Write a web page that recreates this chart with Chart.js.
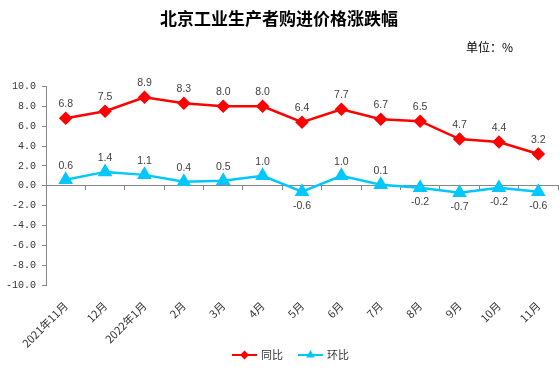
<!DOCTYPE html>
<html lang="zh">
<head>
<meta charset="UTF-8" />
<title>北京工业生产者购进价格涨跌幅</title>
<script src="https://cdn.jsdelivr.net/npm/chart.js@4.4.0/dist/chart.umd.min.js"></script>
<style>
  html, body { margin: 0; padding: 0; background: #fff; }
  canvas { display: block; }
</style>
</head>
<body>
<canvas id="myChart" width="560" height="374"></canvas>
<script>
const categories = ["2021年11月", "12月", "2022年1月", "2月", "3月", "4月", "5月", "6月", "7月", "8月", "9月", "10月", "11月"];
const yoyValues = [6.8, 7.5, 8.9, 8.3, 8.0, 8.0, 6.4, 7.7, 6.7, 6.5, 4.7, 4.4, 3.2];
const momValues = [0.6, 1.4, 1.1, 0.4, 0.5, 1.0, -0.6, 1.0, 0.1, -0.2, -0.7, -0.2, -0.6];
const yMin = -10;
const yMax = 10;
const yStep = 2;

const RED = "#ff0000";
const CYAN = "#00c8ff";
const CJK = '"Noto Sans CJK SC", "Liberation Sans", sans-serif';

// value labels above / below each point
const pointLabels = {
  id: "pointLabels",
  afterDatasetsDraw(chart) {
    const ctx = chart.ctx;
    ctx.save();
    ctx.font = '10.5px "Liberation Sans", Arial, sans-serif';
    ctx.fillStyle = "#404040";
    ctx.textAlign = "center";
    ctx.textBaseline = "middle";
    chart.data.datasets.forEach((ds, i) => {
      chart.getDatasetMeta(i).data.forEach((pt, j) => {
        const v = ds.data[j];
        const dy = v < 0 ? 14 : -14;
        ctx.fillText(v.toFixed(1), pt.x, pt.y + dy);
      });
    });
    ctx.restore();
  }
};

// unit text and legend with line + marker
const extras = {
  id: "extras",
  afterDraw(chart) {
    const ctx = chart.ctx;
    ctx.save();
    ctx.font = "12px " + CJK;
    ctx.fillStyle = "#000";
    ctx.textAlign = "right";
    ctx.textBaseline = "middle";
    ctx.fillText("单位：%", 513, 47);

    const items = [
      { x: 232, ds: chart.data.datasets[0] },
      { x: 298, ds: chart.data.datasets[1] }
    ];
    const y = 355;
    items.forEach(({ x, ds }) => {
      ctx.strokeStyle = ds.borderColor;
      ctx.lineWidth = 2;
      ctx.beginPath();
      ctx.moveTo(x, y);
      ctx.lineTo(x + 25, y);
      ctx.stroke();
      Chart.helpers.drawPoint(ctx, {
        pointStyle: ds.pointStyle,
        radius: 3,
        borderWidth: 1
      }, x + 12.5, y);
      ctx.fillStyle = ds.pointBackgroundColor;
      ctx.fill();
      ctx.fillStyle = "#333";
      ctx.textAlign = "left";
      ctx.font = "11px " + CJK;
      ctx.fillText(ds.label, x + 29, y);
    });
    ctx.restore();
  }
};

const ctx = document.getElementById("myChart").getContext("2d");
new Chart(ctx, {
  type: "line",
  data: {
    labels: categories,
    datasets: [
      {
        label: "同比",
        data: yoyValues,
        borderColor: RED,
        backgroundColor: RED,
        pointBackgroundColor: RED,
        pointBorderColor: RED,
        pointStyle: "rectRot",
        pointRadius: 5,
        borderWidth: 2.5,
        xAxisID: "x"
      },
      {
        label: "环比",
        data: momValues,
        borderColor: CYAN,
        backgroundColor: CYAN,
        pointBackgroundColor: CYAN,
        pointBorderColor: CYAN,
        pointStyle: "triangle",
        pointRadius: 6,
        borderWidth: 2.5,
        xAxisID: "x"
      }
    ]
  },
  options: {
    responsive: false,
    animation: false,
    layout: { autoPadding: false, padding: { top: 6, left: 0, right: 2, bottom: 18 } },
    plugins: {
      legend: { display: false },
      tooltip: { enabled: false },
      title: {
        display: true,
        text: "北京工业生产者购进价格涨跌幅",
        color: "#000",
        font: { family: CJK, size: 17, weight: "bold" },
        padding: { top: 2, bottom: 58 }
      }
    },
    scales: {
      x: {
        type: "category",
        position: { y: 0 },
        offset: true,
        ticks: { display: false },
        border: { display: true, color: "#868686", width: 1 },
        grid: { display: true, offset: true, drawOnChartArea: false, drawTicks: true, tickLength: 4, color: "#868686" }
      },
      x2: {
        type: "category",
        position: "bottom",
        labels: categories,
        offset: true,
        border: { display: false },
        grid: { display: false },
        afterFit: (scale) => { scale.paddingRight = 0; },
        ticks: {
          autoSkip: false,
          minRotation: 45,
          maxRotation: 45,
          padding: 6,
          color: "#333",
          font: { family: CJK, size: 11 }
        }
      },
      y: {
        min: yMin,
        max: yMax,
        border: { display: true, color: "#868686", width: 1 },
        grid: { display: true, drawOnChartArea: false, drawTicks: true, tickLength: 4, color: "#868686" },
        ticks: {
          stepSize: yStep,
          color: "#333",
          padding: 6,
          font: { family: '"Liberation Mono", "DejaVu Sans Mono", monospace', size: 10 },
          callback: (v) => Number(v).toFixed(1)
        }
      }
    }
  },
  plugins: [pointLabels, extras]
});
</script>
</body>
</html>
